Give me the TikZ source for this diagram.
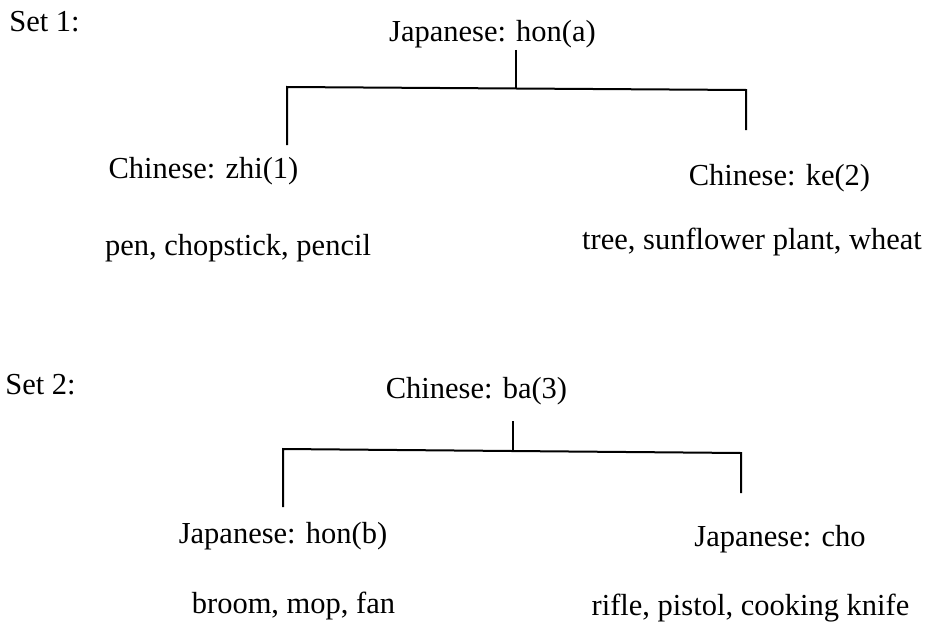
\documentclass[tikz,border=0pt]{standalone}
\usepackage{fontspec}
\setmainfont{Liberation Serif}
\begin{document}
\begin{tikzpicture}[x=1pt,y=-1pt,
  lab/.style={inner sep=0pt,font=\fontsize{30.5}{35}\selectfont,anchor=base},
  conn/.style={line width=2pt}]
\useasboundingbox[fill=white] (0,0) rectangle (926,626);
% Set 1
\node[lab] (s1) at (44.5,32) {Set 1:};
\node[lab] (ja) at (492.5,42) {Japanese: hon(a)};
\coordinate (t1) at (516,50);
\coordinate (j1) at (516,88.5);
\coordinate (l1) at (287,87);
\coordinate (r1) at (746,90);
\coordinate (l1e) at (287,145);
\coordinate (r1e) at (746,130);
\draw[conn] (t1) -- (j1);
\draw[conn] (l1e) -- (l1) -- (r1) -- (r1e);
\node[lab] (zhi) at (203.5,178) {Chinese: zhi(1)};
\node[lab] (ke) at (779.5,185) {Chinese: ke(2)};
\node[lab] (p1) at (238,255) {pen, chopstick, pencil};
\node[lab] (tr1) at (752,249) {tree, sunflower plant, wheat};
% Set 2
\node[lab] (s2) at (40.5,394) {Set 2:};
\node[lab] (ba) at (476.5,398) {Chinese: ba(3)};
\coordinate (t2) at (513,421);
\coordinate (j2) at (513,451);
\coordinate (l2) at (283,449);
\coordinate (r2) at (741,453);
\coordinate (l2e) at (283,507);
\coordinate (r2e) at (741,493);
\draw[conn] (t2) -- (j2);
\draw[conn] (l2e) -- (l2) -- (r2) -- (r2e);
\node[lab] (honb) at (283,543) {Japanese: hon(b)};
\node[lab] (cho) at (780,546) {Japanese: cho};
\node[lab] (bmf) at (293.5,613) {broom, mop, fan};
\node[lab] (rpk) at (750.5,615) {rifle, pistol, cooking knife};
\end{tikzpicture}
\end{document}
